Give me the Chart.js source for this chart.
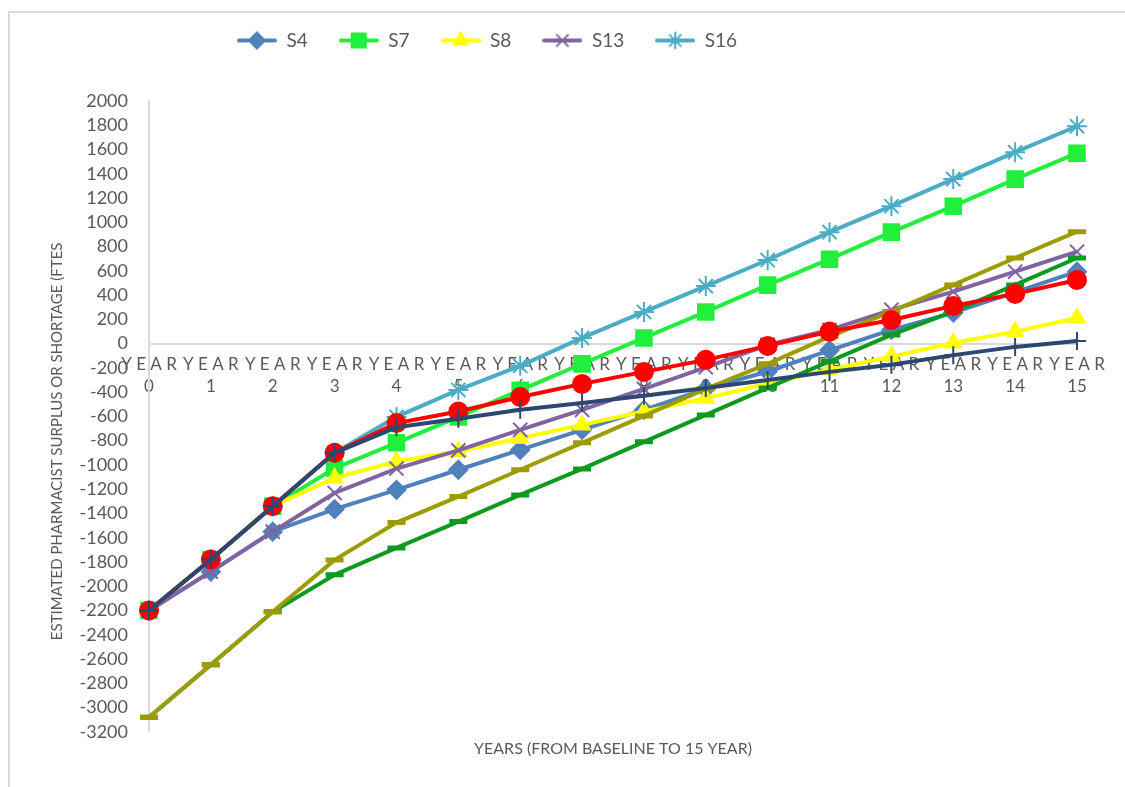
<!DOCTYPE html>
<html>
<head>
<meta charset="utf-8">
<title>Pharmacist surplus or shortage</title>
<script src="https://cdn.jsdelivr.net/npm/chart.js@4.4.1/dist/chart.umd.min.js"></script>
<style>
  html, body { margin: 0; padding: 0; background: #fff; overflow: hidden; }
  #frame { position: absolute; left: 8px; top: 11px; width: 1200px; height: 900px;
           border-left: 2px solid #d9d9d9; border-top: 2px solid #d9d9d9; }
  #wrap { position: absolute; left: 0; top: 0; width: 1125px; height: 787px; }
</style>
</head>
<body>
<div id="frame"></div>
<div id="wrap"><canvas id="chart"></canvas></div>
<script>
/* global Chart */

// x categories (year after baseline)
var years = ['0', '1', '2', '3', '4', '5', '6', '7', '8', '9', '10', '11', '12', '13', '14', '15'];
var yearWord = 'Y E A R';

// series values, FTEs
var s4 = [-2200, -1880, -1550, -1365, -1205, -1040, -876, -711, -546, -373, -230, -55, 113, 255, 425, 593];
var s7 = [-2200, -1780, -1340, -1028, -818, -604, -384, -167, 47, 261, 482, 696, 919, 1133, 1356, 1570];
var s8 = [-2200, -1780, -1340, -1107, -972, -890, -780, -670, -560, -450, -330, -215, -107, 5, 99, 211];
var s13 = [-2200, -1880, -1550, -1231, -1030, -880, -711, -546, -373, -195, -10, 113, 278, 429, 593, 758];
var s16 = [-2200, -1780, -1340, -900, -604, -382, -183, 47, 261, 474, 689, 919, 1133, 1356, 1578, 1792];
var sRed = [-2200, -1780, -1340, -900, -655, -560, -440, -332, -233, -134, -19, 99, 195, 311, 410, 525];
var sNavy = [-2200, -1780, -1340, -900, -690, -620, -546, -489, -430, -365, -300, -233, -175, -95, -27, 22];
var sOlive = [-3080, -2648, -2211, -1783, -1475, -1261, -1040, -818, -596, -373, -167, 58, 264, 484, 706, 923];
var sDarkGreen = [-3080, -2648, -2211, -1906, -1684, -1467, -1247, -1033, -810, -588, -365, -146, 72, 264, 484, 706];

// y axis range
var yMin = -3200;
var yMax = 2000;
var yStep = 200;

var AXIS_GREY = '#d9d9d9';
var TEXT_GREY = '#595959';
var FONT = 'Lato, "Open Sans", sans-serif';

function series(label, data, color, style, radius, order, pointWidth) {
  return {
    label: label,
    data: data,
    borderColor: color,
    backgroundColor: color,
    borderWidth: 4,
    pointStyle: style,
    pointRadius: radius,
    pointHoverRadius: radius,
    pointBackgroundColor: color,
    pointBorderColor: color,
    pointBorderWidth: pointWidth || 2,
    tension: 0,
    fill: false,
    order: order
  };
}

var datasets = [
  series('S4', s4, '#4F81BD', 'rectRot', 9, 9),
  series('S7', s7, '#22EE3C', 'rect', 11, 8),
  series('S8', s8, '#FFFF00', 'triangle', 9, 7),
  series('S13', s13, '#8064A2', 'crossRot', 10, 6),
  series('S16', s16, '#4BACC6', 'star', 10, 5),
  series('', sDarkGreen, '#0E9A1E', 'line', 9, 4, 5),
  series('', sOlive, '#9C9C00', 'line', 9, 3, 5),
  series('', sRed, '#FF0000', 'circle', 9, 2),
  series('', sNavy, '#2C4770', 'cross', 9, 1)
];

// legend swatch: short line with the marker in the middle
function legendIcon(ds) {
  var c = document.createElement('canvas');
  c.width = 40;
  c.height = 22;
  var ctx = c.getContext('2d');
  ctx.strokeStyle = ds.borderColor;
  ctx.fillStyle = ds.borderColor;
  ctx.lineWidth = 4;
  ctx.lineCap = 'round';
  ctx.beginPath();
  ctx.moveTo(2, 11);
  ctx.lineTo(38, 11);
  ctx.stroke();
  ctx.lineWidth = 2;
  Chart.helpers.drawPoint(ctx, {
    pointStyle: ds.pointStyle,
    radius: ds.pointStyle === 'rect' ? 10 : 8,
    rotation: 0,
    borderWidth: 2
  }, 20, 11);
  return c;
}
var legendIcons = datasets.map(legendIcon);

var labels = years.map(function (y) { return [yearWord, y]; });

var config = {
  type: 'line',
  data: { labels: labels, datasets: datasets },
  options: {
    responsive: true,
    maintainAspectRatio: false,
    devicePixelRatio: 1,
    animation: false,
    layout: { padding: { left: 0, right: 48, top: 0, bottom: 0 } },
    plugins: {
      tooltip: { enabled: false },
      legend: {
        position: 'top',
        labels: {
          usePointStyle: true,
          pointStyleWidth: 40,
          padding: 31,
          color: TEXT_GREY,
          font: { family: FONT, size: 19 },
          filter: function (item) { return item.datasetIndex < 5; },
          sort: function (a, b) { return a.datasetIndex - b.datasetIndex; },
          generateLabels: function (chart) {
            var items = Chart.defaults.plugins.legend.labels.generateLabels(chart);
            items.forEach(function (it) { it.pointStyle = legendIcons[it.datasetIndex]; });
            return items;
          }
        }
      },
      title: {
        display: true,
        position: 'bottom',
        fullSize: false,
        text: 'YEARS (FROM BASELINE TO 15 YEAR)',
        color: TEXT_GREY,
        font: { family: FONT, size: 16, weight: 'normal' },
        padding: { top: 7, bottom: 29 }
      }
    },
    scales: {
      x: {
        type: 'category',
        position: { y: 0 },
        offset: false,
        grid: { display: false, drawTicks: false },
        border: { display: true, color: AXIS_GREY, width: 2 },
        ticks: {
          color: TEXT_GREY,
          font: { family: FONT, size: 17, lineHeight: 1.3 },
          padding: 10,
          autoSkip: false,
          maxRotation: 0,
          minRotation: 0
        }
      },
      y: {
        min: yMin,
        max: yMax,
        afterFit: function (scale) { scale.width = 149; },
        grid: { display: false, drawTicks: false },
        border: { display: true, color: AXIS_GREY, width: 2 },
        ticks: {
          stepSize: yStep,
          autoSkip: false,
          color: TEXT_GREY,
          padding: 21,
          font: { family: FONT, size: 18 },
          callback: function (v) { return String(v); }
        },
        title: {
          display: true,
          text: 'ESTIMATED PHARMACIST SURPLUS OR SHORTAGE (FTES             ',
          color: TEXT_GREY,
          font: { family: FONT, size: 15 },
          padding: { top: 48, bottom: 0 }
        }
      }
    }
  },
  plugins: [{
    id: 'legendBox',
    afterInit: function (chart) {
      var fit = chart.legend.fit;
      chart.legend.fit = function () {
        fit.call(this);
        this.height = 101;
      };
    },
    afterLayout: function (chart) {
      // the legend row sits left of the page centre in the original
      chart.legend.left = 0;
      chart.legend.right = 974;
    }
  }]
};

var chart = new Chart(document.getElementById('chart'), config);
</script>
</body>
</html>
